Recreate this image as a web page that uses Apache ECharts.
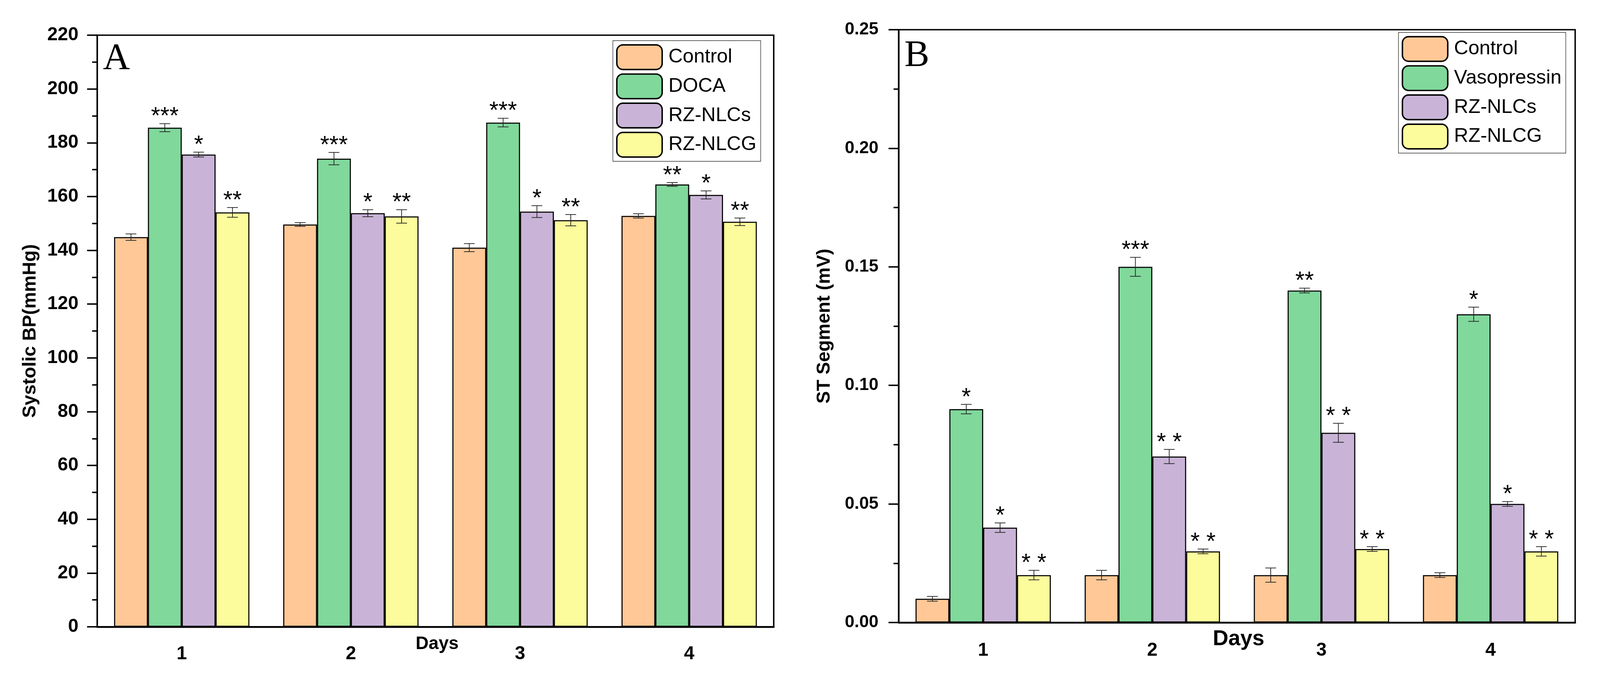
<!DOCTYPE html>
<html>
<head>
<meta charset="utf-8">
<script src="https://cdn.jsdelivr.net/npm/echarts@6/dist/echarts.min.js"></script>
<style>
  html, body { margin: 0; padding: 0; background: #fff; overflow: hidden; }
  #chart { position: absolute; left: 0; top: 0; }
</style>
</head>
<body>
<div id="chart"></div>
<script>
// ---- data ----
const days = ['1', '2', '3', '4'];

// panel A: systolic BP (mmHg)
const bpControl = [144.9, 149.6, 141.0, 152.8];
const bpControlSd = [1.2, 0.7, 1.5, 0.8];
const bpDoca = [185.6, 174.1, 187.5, 164.5];
const bpDocaSd = [1.5, 2.3, 1.6, 0.7];
const bpNlcs = [175.6, 153.8, 154.4, 160.6];
const bpNlcsSd = [0.9, 1.3, 2.2, 1.5];
const bpNlcg = [154.1, 152.6, 151.2, 150.6];
const bpNlcgSd = [1.8, 2.5, 2.1, 1.4];
const bpDocaStars = ['***', '***', '***', '**'];
const bpNlcsStars = ['*', '*', '*', '*'];
const bpNlcgStars = ['**', '**', '**', '**'];

// panel B: ST segment (mV)
const stControl = [0.010, 0.020, 0.020, 0.020];
const stControlSd = [0.001, 0.002, 0.003, 0.001];
const stVaso = [0.090, 0.150, 0.140, 0.130];
const stVasoSd = [0.002, 0.004, 0.001, 0.003];
const stNlcs = [0.040, 0.070, 0.080, 0.050];
const stNlcsSd = [0.002, 0.003, 0.004, 0.001];
const stNlcg = [0.020, 0.030, 0.031, 0.030];
const stNlcgSd = [0.002, 0.001, 0.001, 0.002];
const stVasoStars = ['*', '***', '**', '*'];
const stNlcsStars = ['*', '* *', '* *', '*'];
const stNlcgStars = ['* *', '* *', '* *', '* *'];

const colors = {
    control: '#FFC896',
    green: '#80D89B',
    purple: '#C9B4D7',
    yellow: '#FDFC9C'
};
const FONT = 'Liberation Sans, Arial, sans-serif';

// layout was measured on a 4446 x 1735 picture, scale it to the real window
const W = window.innerWidth, H = window.innerHeight;
const sx = W / 4446, sy = H / 1735, sf = Math.min(sx, sy);
const X = v => v * sx, Y = v => v * sy, F = v => v * sf;

const el = document.getElementById('chart');
el.style.width = W + 'px';
el.style.height = H + 'px';
let myChart = echarts.init(el);

function barSeries(name, data, color, axis) {
    return {
        type: 'bar',
        name: name,
        data: data,
        xAxisIndex: axis * 2,
        yAxisIndex: axis,
        barGap: '0%',
        barCategoryGap: '20%',
        itemStyle: {color: color, borderColor: '#000', borderWidth: F(3)},
        z: 2
    };
}

// error bar + significance stars, drawn on top of bar k of each group
function errSeries(means, sds, stars, k, axis) {
    return {
        type: 'custom',
        xAxisIndex: axis * 2,
        yAxisIndex: axis,
        z: 5,
        silent: true,
        data: means.map((m, i) => [i, m, sds[i]]),
        renderItem: function (params, api) {
            const c = api.value(0);
            const m = api.value(1);
            const s = api.value(2);
            const band = api.size([1, 0])[0];
            const x = api.coord([c, m])[0] + (k - 1.5) * band * 0.2;
            const yt = api.coord([c, m + s])[1];
            const yb = api.coord([c, m - s])[1];
            const hw = X(15);
            const ls = {stroke: '#222', lineWidth: F(2)};
            const children = [
                {type: 'line', shape: {x1: x, y1: yt, x2: x, y2: yb}, style: ls},
                {type: 'line', shape: {x1: x - hw, y1: yt, x2: x + hw, y2: yt}, style: ls},
                {type: 'line', shape: {x1: x - hw, y1: yb, x2: x + hw, y2: yb}, style: ls}
            ];
            const st = stars ? stars[params.dataIndex] : '';
            if (st) {
                children.push({
                    type: 'text',
                    style: {
                        text: st, x: x, y: yt - Y(17),
                        align: 'center', verticalAlign: 'middle',
                        font: F(66) + 'px ' + FONT, fill: '#000'
                    }
                });
            }
            return {type: 'group', children: children};
        }
    };
}

function catAxes(gridIndex, labelMargin, labelSize) {
    return [{
        type: 'category',
        gridIndex: gridIndex,
        data: days,
        axisLine: {lineStyle: {color: '#000', width: F(5)}},
        axisTick: {alignWithLabel: true, length: Y(27), lineStyle: {color: '#000', width: F(4)}},
        axisLabel: {margin: Y(labelMargin), fontSize: F(labelSize), fontWeight: 'bold', color: '#000', fontFamily: FONT}
    }, {
        type: 'category',
        gridIndex: gridIndex,
        data: days,
        position: 'bottom',
        axisLine: {show: false},
        axisTick: {length: Y(14), lineStyle: {color: '#000', width: F(4)}},
        axisLabel: {show: false}
    }];
}

function valAxis(gridIndex, max, interval, name, nameGap, labelSize, labelMargin, fmt) {
    return {
        type: 'value',
        gridIndex: gridIndex,
        min: 0,
        max: max,
        interval: interval,
        name: name,
        nameLocation: 'middle',
        nameGap: X(nameGap),
        nameTextStyle: {fontSize: F(52), fontWeight: 'bold', color: '#000', fontFamily: FONT},
        axisLine: {show: true, lineStyle: {color: '#000', width: F(4)}},
        axisTick: {show: true, length: X(28), lineStyle: {color: '#000', width: F(4)}},
        minorTick: {show: true, splitNumber: 2, length: X(14), lineStyle: {color: '#000', width: F(4)}},
        splitLine: {show: false},
        axisLabel: {margin: X(labelMargin), fontSize: F(labelSize), fontWeight: 'bold', color: '#000', fontFamily: FONT, formatter: fmt}
    };
}

function legendBox(left, top, names) {
    return {
        orient: 'vertical',
        left: X(left),
        top: Y(top),
        data: names,
        itemWidth: X(126),
        itemHeight: Y(63),
        itemGap: Y(8),
        padding: [Y(9), X(12), Y(9), X(9)],
        backgroundColor: '#fff',
        borderColor: '#333',
        borderWidth: F(1.5),
        itemStyle: {borderColor: '#000', borderWidth: F(4)},
        textStyle: {fontSize: F(55), color: '#000', fontFamily: FONT, padding: [0, 0, 0, X(12)]},
        selectedMode: false
    };
}

const option = {
    backgroundColor: '#fff',
    animation: false,
    grid: [
        {left: X(270), top: Y(90), width: X(1880), height: Y(1514), show: true, borderColor: '#000', borderWidth: F(4)},
        {left: X(2497), top: Y(76), width: X(1880), height: Y(1517), show: true, borderColor: '#000', borderWidth: F(4)}
    ],
    xAxis: catAxes(0, 46, 52).concat(catAxes(1, 48, 52)),
    yAxis: [
        valAxis(0, 220, 20, 'Systolic BP(mmHg)', 160, 52, 52),
        valAxis(1, 0.25, 0.05, 'ST Segment (mV)', 180, 48, 56, v => v.toFixed(2))
    ],
    legend: [
        legendBox(1703, 104, ['Control', 'DOCA', 'RZ-NLCs', 'RZ-NLCG']),
        legendBox(3886, 83, ['Control', 'Vasopressin', 'RZ-NLCs', 'RZ-NLCG'])
    ],
    graphic: [
        {type: 'text', left: X(286), top: Y(104), style: {text: 'A', font: F(104) + 'px Liberation Serif, Times New Roman, serif', fill: '#000'}},
        {type: 'text', left: X(2513), top: Y(96), style: {text: 'B', font: F(104) + 'px Liberation Serif, Times New Roman, serif', fill: '#000'}},
        {type: 'text', left: X(1155), top: Y(1625), style: {text: 'Days', font: 'bold ' + F(50) + 'px ' + FONT, fill: '#000'}},
        {type: 'text', left: X(3370), top: Y(1608), style: {text: 'Days', font: 'bold ' + F(60) + 'px ' + FONT, fill: '#000'}}
    ],
    series: [
        barSeries('Control', bpControl, colors.control, 0),
        barSeries('DOCA', bpDoca, colors.green, 0),
        barSeries('RZ-NLCs', bpNlcs, colors.purple, 0),
        barSeries('RZ-NLCG', bpNlcg, colors.yellow, 0),
        errSeries(bpControl, bpControlSd, null, 0, 0),
        errSeries(bpDoca, bpDocaSd, bpDocaStars, 1, 0),
        errSeries(bpNlcs, bpNlcsSd, bpNlcsStars, 2, 0),
        errSeries(bpNlcg, bpNlcgSd, bpNlcgStars, 3, 0),

        barSeries('Control', stControl, colors.control, 1),
        barSeries('Vasopressin', stVaso, colors.green, 1),
        barSeries('RZ-NLCs', stNlcs, colors.purple, 1),
        barSeries('RZ-NLCG', stNlcg, colors.yellow, 1),
        errSeries(stControl, stControlSd, null, 0, 1),
        errSeries(stVaso, stVasoSd, stVasoStars, 1, 1),
        errSeries(stNlcs, stNlcsSd, stNlcsStars, 2, 1),
        errSeries(stNlcg, stNlcgSd, stNlcgStars, 3, 1)
    ]
};

myChart.setOption(option);
</script>
</body>
</html>
